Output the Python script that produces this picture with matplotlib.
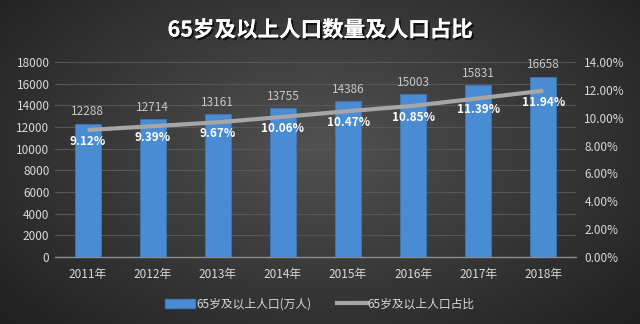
import numpy as np
import matplotlib
matplotlib.use("Agg")
import matplotlib.pyplot as plt
import matplotlib.patheffects as pe
from matplotlib.lines import Line2D
from matplotlib.patches import Patch

plt.rcParams['font.family'] = ['Noto Sans CJK SC', 'DejaVu Sans']

years = ['2011年', '2012年', '2013年', '2014年', '2015年', '2016年', '2017年', '2018年']
population = [12288, 12714, 13161, 13755, 14386, 15003, 15831, 16658]
ratio = [9.12, 9.39, 9.67, 10.06, 10.47, 10.85, 11.39, 11.94]
title = '65岁及以上人口数量及人口占比'
bar_label = '65岁及以上人口(万人)'
line_label = '65岁及以上人口占比'

W, H = 640, 324
fig = plt.figure(figsize=(W / 100, H / 100), dpi=100)

# radial gradient background
bg = fig.add_axes([0, 0, 1, 1], zorder=-10)
yy, xx = np.mgrid[0:H, 0:W]
cx, cy = W * 0.5, H * 0.45
r = np.sqrt(((xx - cx) / (W * 0.62)) ** 2 + ((yy - cy) / (H * 0.75)) ** 2)
v = np.clip(0.32 - 0.18 * r, 0.11, 0.34)
bg.imshow(np.dstack([v, v, v]), aspect='auto', extent=[0, 1, 0, 1])
bg.axis('off')

ax = fig.add_axes([55 / W, 1 - 257 / H, (576 - 55) / W, (257 - 62) / H])
ax.patch.set_alpha(0)
x = np.arange(len(years))
ax.bar(x, population, width=0.4, color='#4a8cd4', edgecolor='#3d7bc0', linewidth=0.5, zorder=3)
ax.set_xlim(-0.5, len(years) - 0.5)
ax.set_ylim(0, 18000)
ax.set_yticks(np.arange(0, 18001, 2000))
ax.grid(axis='y', color='#575757', linewidth=0.8, zorder=0)
for s in ['top', 'right', 'left']:
    ax.spines[s].set_visible(False)
ax.spines['bottom'].set_color('#8c8c8c')
ax.spines['bottom'].set_linewidth(1.0)
ax.tick_params(axis='both', length=0, colors='#d9d9d9', labelsize=8.5)
ax.tick_params(axis='x', pad=8)
ax.tick_params(axis='y', pad=4)
ax.set_xticks(x)
ax.set_xticklabels(years)
for xi, p in zip(x, population):
    ax.text(xi, p + 500, str(p), ha='center', va='bottom', color='#c8c8c8', fontsize=8.5, zorder=5)

ax2 = ax.twinx()
ax2.set_ylim(0, 14)
ax2.set_yticks(np.arange(0, 14.01, 2))
ax2.set_yticklabels([f'{t:.2f}%' for t in np.arange(0, 14.01, 2)])
for s in ['top', 'right', 'left', 'bottom']:
    ax2.spines[s].set_visible(False)
ax2.tick_params(axis='y', length=0, colors='#d9d9d9', labelsize=8.5, pad=6)
ax2.plot(x, ratio, color='#a6a6a6', linewidth=3, solid_capstyle='butt', zorder=4)
for xi, rv in zip(x, ratio):
    ax2.text(xi, rv - 0.35, f'{rv:.2f}%', ha='center', va='top', color='white',
             fontsize=8.5, fontweight='bold', zorder=6)

fig.text(0.5, 1 - 30 / H, title, ha='center', va='center', color='white', fontsize=15.5,
         fontweight='bold',
         path_effects=[pe.withSimplePatchShadow(offset=(1.5, -1.5), shadow_rgbFace='black', alpha=0.7), pe.Normal()])

handles = [Patch(facecolor='#4a8cd4', edgecolor='#3d7bc0'),
           Line2D([0], [0], color='#a6a6a6', linewidth=3)]
leg = fig.legend(handles, [bar_label, line_label], loc='center', bbox_to_anchor=(0.5, 1 - 304 / H),
                 ncol=2, frameon=False, fontsize=8.5, labelcolor='#d9d9d9', handlelength=2.5,
                 handletextpad=0.1, columnspacing=2.2)

fig.savefig('out.png', dpi=100)
